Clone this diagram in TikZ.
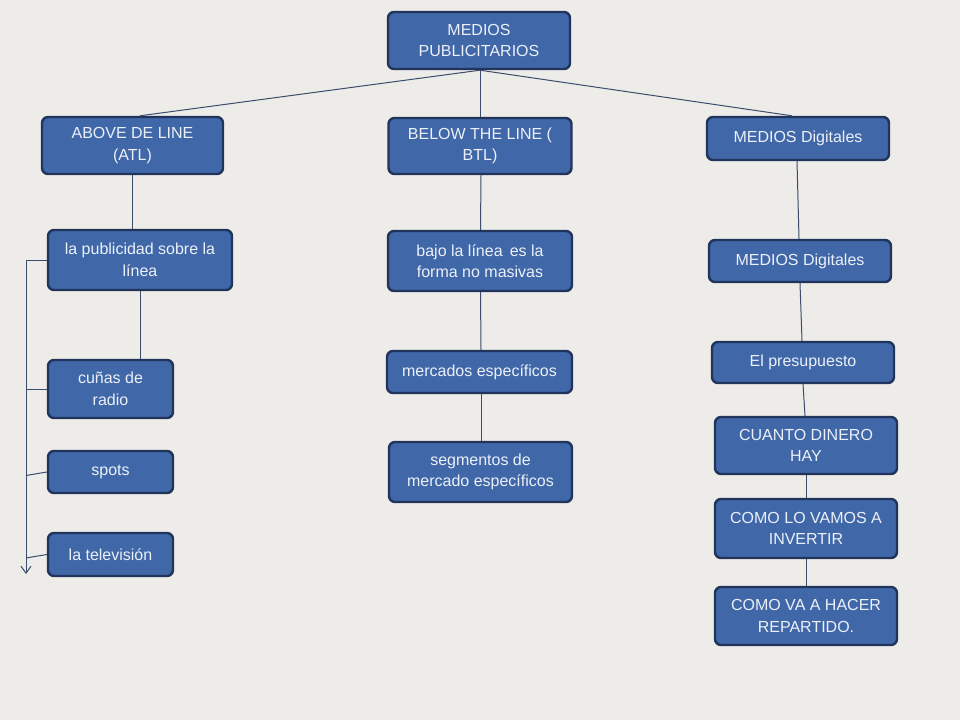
\documentclass[tikz,border=0pt]{standalone}
\usepackage{fontspec}
\setmainfont{Liberation Sans}
\usetikzlibrary{arrows.meta,calc}
\definecolor{bgc}{RGB}{238,236,232}
\definecolor{boxfill}{RGB}{64,103,168}
\definecolor{boxline}{RGB}{33,52,92}
\definecolor{linec}{RGB}{58,78,108}
\definecolor{txt}{RGB}{236,240,248}
\tikzset{
  box/.style={draw=boxline, line width=2.4pt, fill=boxfill, rounded corners=6pt,
    text=txt, align=center, inner sep=2pt,
    font=\fontsize{16}{21.5}\selectfont},
  conn/.style={draw=linec, line width=1pt},
}
\begin{document}
\begin{tikzpicture}[x=1pt,y=-1pt]
\path[fill=bgc] (0,0) rectangle (960,720);
\useasboundingbox (0,0) rectangle (960,720);

% nodes
\node[box, minimum width=182pt, minimum height=57pt] (top) at (479,40.5) {MEDIOS\\PUBLICITARIOS};
\node[box, minimum width=181pt, minimum height=57pt] (atl) at (132.5,145.5) {ABOVE DE LINE\\(ATL)};
\node[box, minimum width=183pt, minimum height=56pt] (btl) at (480,146) {BELOW THE LINE (\\BTL)};
\node[box, minimum width=182pt, minimum height=43pt] (md1) at (798,138.5) {MEDIOS Digitales};

\node[box, minimum width=184pt, minimum height=60pt] (pub) at (140,260) {la publicidad sobre la\\línea};
\node[box, minimum width=125pt, minimum height=58pt] (cun) at (110.5,389) {cuñas de\\radio};
\node[box, minimum width=125pt, minimum height=42pt] (spots) at (110.5,472) {spots};
\node[box, minimum width=125pt, minimum height=43pt] (tv) at (110.5,554.5) {la televisión};

\node[box, minimum width=184pt, minimum height=60pt] (bajo) at (480,261) {bajo la línea \,es la\\forma no masivas};
\node[box, minimum width=185pt, minimum height=42pt] (merc) at (479.5,372) {mercados específicos};
\node[box, minimum width=183pt, minimum height=60pt] (seg) at (480.5,472) {segmentos de\\mercado específicos};

\node[box, minimum width=182pt, minimum height=42pt] (md2) at (800,261) {MEDIOS Digitales};
\node[box, minimum width=182pt, minimum height=41pt] (pres) at (803,362.5) {El presupuesto};
\node[box, minimum width=182pt, minimum height=57pt] (cuanto) at (806,445.5) {CUANTO DINERO\\HAY};
\node[box, minimum width=182pt, minimum height=59pt] (como) at (806,528.5) {COMO LO VAMOS A\\INVERTIR};
\node[box, minimum width=182pt, minimum height=58pt] (va) at (806,616) {COMO VA A HACER\\REPARTIDO.};

% connectors from top
\draw[conn] ([xshift=1pt]top.south) -- ([xshift=7.5pt]atl.north);
\draw[conn] ([xshift=1pt]top.south) -- (btl.north);
\draw[conn] ([xshift=1pt]top.south) -- ([xshift=-6pt]md1.north);

% left column
\draw[conn] (atl.south) -- (atl.south |- pub.north);
\draw[conn] (pub.south) -- (pub.south |- cun.north);

\coordinate (bt) at (26,260);
\coordinate (bb) at (26,574);
\draw[conn, -{Straight Barb[length=7pt,width=10pt]}] (pub.west) -- (bt) -- (bb);
\draw[conn] (cun.west) -- (cun.west -| bt);
\draw[conn] (spots.west) -- ($(spots.west -| bt)+(0,3.5)$);
\draw[conn] (tv.west) -- ($(tv.west -| bt)+(0,3.5)$);

% middle column
\draw[conn] ([xshift=1pt]btl.south) -- ([xshift=0.5pt]bajo.north);
\draw[conn] ([xshift=0.5pt]bajo.south) -- ([xshift=1.5pt]merc.north);
\draw[conn] ([xshift=1.5pt]merc.south) -- ([xshift=0.5pt]seg.north);

% right column
\draw[conn] ([xshift=-1pt]md1.south) -- ([xshift=-1pt]md2.north);
\draw[conn] (md2.south) -- ([xshift=-1pt]pres.north);
\draw[conn] ([xshift=0pt]pres.south) -- ([xshift=-1pt]cuanto.north);
\draw[conn] (cuanto.south) -- (como.north);
\draw[conn] (como.south) -- (va.north);
\end{tikzpicture}
\end{document}
